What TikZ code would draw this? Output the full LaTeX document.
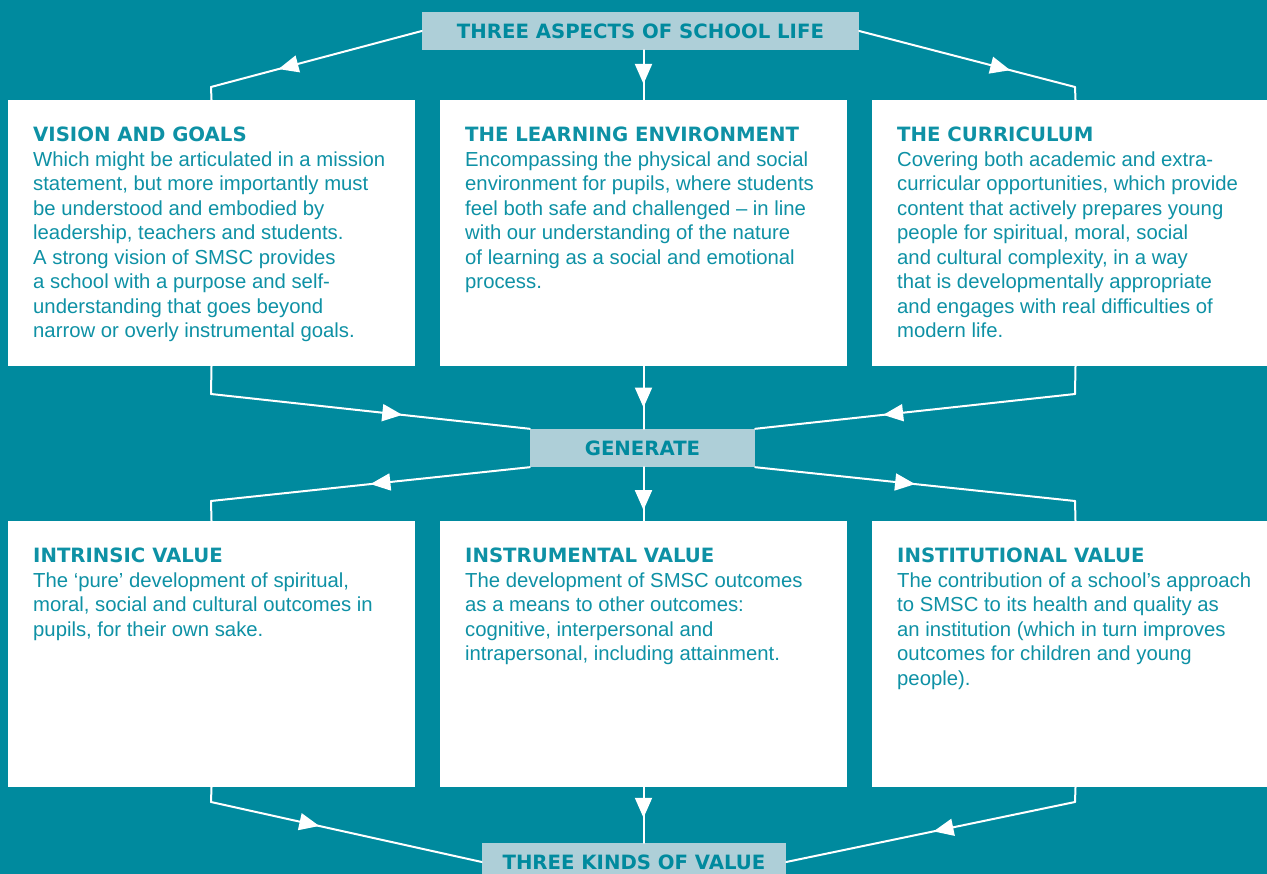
\documentclass[tikz,border=0pt]{standalone}
\usepackage{fontspec}
\setmainfont{Liberation Sans}
\newfontfamily\headfont{DejaVu Sans}
\usetikzlibrary{positioning, calc}
\usetikzlibrary{arrows.meta, decorations.markings}

\definecolor{sea}{RGB}{0,138,158}
\definecolor{seatxt}{RGB}{14,145,165}
\definecolor{pale}{RGB}{174,207,216}

\newcommand{\hd}[1]{{\headfont\bfseries\fontsize{19.7}{24.5}\selectfont #1}}

\begin{document}
\begin{tikzpicture}[x=1pt, y=-1pt,
  box/.style={rectangle, fill=white, inner sep=0pt, minimum width=407pt, minimum height=266pt},
  lbl/.style={rectangle, fill=pale, inner sep=0pt, minimum height=38pt, text=sea,
              font=\headfont\bfseries\fontsize{19.7}{24}\selectfont},
  txt/.style={anchor=north west, inner sep=0pt, align=left, text=seatxt,
              font=\fontsize{20.3}{24.5}\selectfont},
  line/.style={draw=white, line width=2pt, line cap=round},
  midarrow/.style={line, decoration={markings,
              mark=at position #1 with {\arrow{Triangle[length=20pt,width=17pt]}}},
              postaction=decorate}]
\clip (0,0) rectangle (1267,874);
\fill[sea] (0,0) rectangle (1267,874);

% boxes
\node[box] (vision)     at (211.5,233) {};
\node[box] (learning)   at (643.5,233) {};
\node[box] (curriculum) at (1075.5,233) {};
\node[box] (intrinsic)     at (211.5,654) {};
\node[box] (instrumental)  at (643.5,654) {};
\node[box] (institutional) at (1075.5,654) {};

% labels
\node[lbl, minimum width=437pt] (aspects)  at (640.5,31) {THREE ASPECTS OF SCHOOL LIFE};
\node[lbl, minimum width=225pt] (generate) at (642.5,448) {GENERATE};
\node[lbl, minimum width=304pt] (kinds)    at (634,862) {THREE KINDS OF VALUE};

% corners
\coordinate (k1) at (211,87);   \coordinate (k2) at (1075,87);
\coordinate (k3) at (211,394);  \coordinate (k4) at (1075,394);
\coordinate (k5) at (211,501);  \coordinate (k6) at (1075,501);
\coordinate (k7) at (211,802);  \coordinate (k8) at (1075,802);

% top row in
\draw[midarrow=0.68] (aspects.west) -- (k1);
\draw[line] (k1) -- (vision.north);
\draw[midarrow=0.68] (aspects.south -| learning.north) -- (learning.north);
\draw[midarrow=0.7] (aspects.east) -- (k2);
\draw[line] (k2) -- (curriculum.north);

% to generate
\draw[line] (vision.south) -- (k3);
\draw[midarrow=0.6] (k3) -- (generate.north west);
\draw[midarrow=0.66] (learning.south) -- (generate.north -| learning.south);
\draw[line] (curriculum.south) -- (k4);
\draw[midarrow=0.6] (k4) -- (generate.north east);

% from generate
\draw[midarrow=0.5] (generate.south west) -- (k5);
\draw[line] (k5) -- (intrinsic.north);
\draw[midarrow=0.8] (generate.south -| instrumental.north) -- (instrumental.north);
\draw[midarrow=0.5] (generate.south east) -- (k6);
\draw[line] (k6) -- (institutional.north);

% to kinds of value
\draw[line] (intrinsic.south) -- (k7);
\draw[midarrow=0.4] (k7) -- (kinds.west);
\draw[midarrow=0.55] (instrumental.south) -- (kinds.north -| instrumental.south);
\draw[line] (institutional.south) -- (k8);
\draw[midarrow=0.49] (k8) -- (kinds.east);

% texts
\node[txt] (visiontxt) at (33,127) {\hd{VISION AND GOALS}\\
Which might be articulated in a mission\\
statement, but more importantly must\\
be understood and embodied by\\
leadership, teachers and students.\\
A strong vision of SMSC provides\\
a school with a purpose and self-\\
understanding that goes beyond\\
narrow or overly instrumental goals.};
\node[txt] (learningtxt) at (465,127) {\hd{THE LEARNING ENVIRONMENT}\\
Encompassing the physical and social\\
environment for pupils, where students\\
feel both safe and challenged – in line\\
with our understanding of the nature\\
of learning as a social and emotional\\
process.};
\node[txt] (curriculumtxt) at (897,127) {\hd{THE CURRICULUM}\\
Covering both academic and extra-\\
curricular opportunities, which provide\\
content that actively prepares young\\
people for spiritual, moral, social\\
and cultural complexity, in a way\\
that is developmentally appropriate\\
and engages with real difficulties of\\
modern life.};
\node[txt] (intrinsictxt) at (33,548) {\hd{INTRINSIC VALUE}\\
The ‘pure’ development of spiritual,\\
moral, social and cultural outcomes in\\
pupils, for their own sake.};
\node[txt] (instrumentaltxt) at (465,548) {\hd{INSTRUMENTAL VALUE}\\
The development of SMSC outcomes\\
as a means to other outcomes:\\
cognitive, interpersonal and\\
intrapersonal, including attainment.};
\node[txt] (institutionaltxt) at (897,548) {\hd{INSTITUTIONAL VALUE}\\
The contribution of a school’s approach\\
to SMSC to its health and quality as\\
an institution (which in turn improves\\
outcomes for children and young\\
people).};
\end{tikzpicture}
\end{document}
